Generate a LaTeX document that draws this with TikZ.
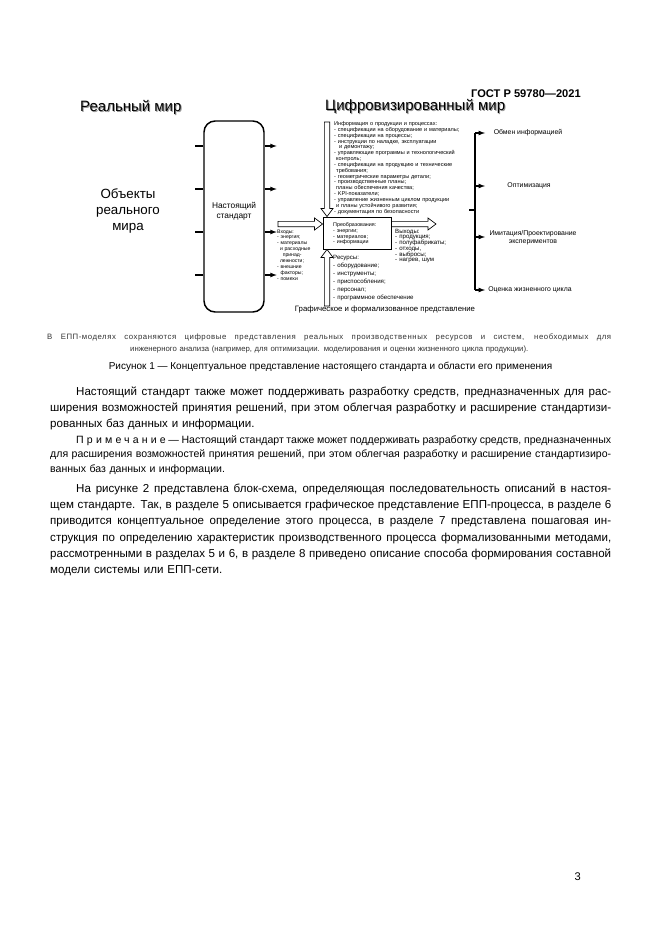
\documentclass[tikz,border=0pt]{standalone}
\usepackage{fontspec}
\setmainfont{Liberation Sans}
\usetikzlibrary{calc,positioning}
\definecolor{mygrau}{RGB}{150,150,150}
\newcommand{\schrift}[2]{\fontsize{#1}{#2}\selectfont}
\newcommand{\zeile}[1]{\makebox[\linewidth][s]{\spaceskip=0pt\xspaceskip=0pt #1}\\}

\begin{document}
\begin{tikzpicture}[x=0.9pt, y=-0.9pt, >=latex,
		rahmen/.style={draw, line width=1.3pt, rounded corners=10pt, minimum width=54pt, minimum height=171.9pt},
		kasten/.style={draw, line width=0.8pt, minimum width=61.2pt, minimum height=28.8pt},
		strich/.style={line width=1pt},
		hohl/.style={draw, line width=0.6pt, fill=white, to path={
				($(\tikztostart)!2.4pt!90:(\tikztotarget)$)
				-- ($(\tikztotarget)!7.2pt!(\tikztostart)!2.4pt!90:(\tikztotarget)$)
				-- ($(\tikztotarget)!7.2pt!(\tikztostart)!5.4pt!90:(\tikztotarget)$)
				-- (\tikztotarget)
				-- ($(\tikztotarget)!7.2pt!(\tikztostart)!5.4pt!-90:(\tikztotarget)$)
				-- ($(\tikztotarget)!7.2pt!(\tikztostart)!2.4pt!-90:(\tikztotarget)$)
				-- ($(\tikztostart)!2.4pt!-90:(\tikztotarget)$) -- cycle}},
		liste/.style={anchor=base west, inner sep=0pt, text width=150pt, align=left},
		ziel/.style={inner sep=0pt, align=center, font=\schrift{6.2}{7}},
		absatz/.style={anchor=base west, inner sep=0pt, text width=504.9pt, align=left},
		titel/.style={anchor=base west, inner sep=0pt, font=\schrift{13.5}{16}}]
				%Seite
				\fill[white] (0,0) rectangle (661,935);
				\useasboundingbox (0,0) rectangle (661,935);
				\node[anchor=base east, inner sep=0pt, font=\schrift{10}{12}\bfseries] (kopf) at (581,97.5) {ГОСТ Р 59780—2021};
				% Ueberschriften mit Schatten
				\node[titel, mygrau] (realS) at (81,112) {Реальный мир};
				\node[titel] (real) at (80,111) {Реальный мир};
				\node[titel, mygrau] (digS) at (326,111) {Цифровизированный мир};
				\node[titel] (dig) at (325,110) {Цифровизированный мир};
				\node[align=center, font=\schrift{12}{14.4}] (obj) at (128,211) {Объекты\\реального\\мира};
				% Standard
				\node[rahmen] (standard) at (234,216.5) {};
				\node[align=center, inner sep=0pt, font=\schrift{7.5}{9}] (stdtxt) at (234,211.5) {Настоящий\\стандарт};
				\foreach \y in {146,189,232,275} {
					\draw[strich] (standard.west |- 0,\y) -- ++(-8,0);
					\draw[strich,->] (standard.east |- 0,\y) -- ++(12,0);
				}
				% Umwandlung
				\node[kasten] (conv) at (357,233) {};
				\node[liste, font=\schrift{4.8}{5.2}] (convtxt) at (333,226.5) {Преобразования:\\- энергии;\\- материалов;\\- информации};
				% Hohlpfeile
				\coordinate (inS) at (278,224);
				\coordinate (inT) at (conv.west |- inS);
				\coordinate (outS) at (conv.east |- inS);
				\coordinate (outT) at (436,224);
				\coordinate (topS) at (327,122);
				\coordinate (topT) at (topS |- conv.north);
				\coordinate (botS) at (327,306);
				\coordinate (botT) at (botS |- conv.south);
				\draw[hohl] (inS) to (inT);
				\draw[hohl] (outS) to (outT);
				\draw[hohl] (topS) to (topT);
				\draw[hohl] (botS) to (botT);
				% Listen
				\node[liste, font=\schrift{5}{5.25}] (info) at (334,125.5) {Информация о продукции и процессах:\\- спецификации на оборудование и материалы;\\- спецификации на процессы;\\- инструкции по наладке, эксплуатации\\\hspace*{4.5pt}и демонтажу;\\- управляющие программы и технологический\\\hspace*{1.8pt}контроль;\\- спецификации на продукцию и технические\\\hspace*{1.8pt}требования;\\- геометрические параметры детали;\\- производственные планы;\\\hspace*{1.8pt}планы обеспечения качества;\\- KPI-показатели;\\- управление жизненным циклом продукции\\\hspace*{1.8pt}и планы устойчивого развития;\\- документация по безопасности};
				\node[liste, font=\schrift{4.6}{5.3}] (inputs) at (277,233) {Входы:\\- энергия;\\- материалы\\\hspace*{2.5pt}и расходные\\\hspace*{5pt}принад-\\\hspace*{2.5pt}лежности;\\- внешние\\\hspace*{3pt}факторы;\\- помехи};
				\node[liste, font=\schrift{5.5}{5.2}] (outputs) at (395,233) {Выходы:\\- продукция;\\- полуфабрикаты;\\- отходы,\\- выбросы;\\- нагрев, шум};
				\node[liste, font=\schrift{5.5}{7.2}] (res) at (333,259) {Ресурсы:\\- оборудование;\\- инструменты;\\- приспособления;\\- персонал;\\- программное обеспечение};
				% Anwendungen
				\foreach \y/\n in {133/1,186/2,237/3,290/4} {
					\coordinate (b\n) at (475,\y);
					\coordinate (p\n) at (485,\y);
					\draw[strich,->] (b\n) -- (p\n);
				}
				\draw[line width=1.3pt] (b1) -- (b4);
				\coordinate (ast) at (469,210);
				\draw[strich] (ast) -- (ast -| b1);
				\node[ziel] (z1) at (528,133) {Обмен информацией};
				\node[ziel] (z2) at (529,186) {Оптимизация};
				\node[ziel] (z3) at (533,237.5) {Имитация/Проектирование\\экспериментов};
				\node[ziel] (z4) at (530,290) {Оценка жизненного цикла};
				\node[inner sep=0pt, font=\schrift{7}{8}] (graf) at (385,309) {Графическое и формализованное представление};
				% Bildunterschrift
				\node[absatz, text width=507.6pt, font=\schrift{7}{10.8}, black!80] (notiz) at (47,339.5) {\zeile{\addfontfeature{LetterSpace=7}В ЕПП-моделях сохраняются цифровые представления реальных производственных ресурсов и систем, необходимых для}\makebox[\linewidth][c]{инженерного анализа (например, для оптимизации. моделирования и оценки жизненного цикла продукции).}};
				\node[anchor=base, inner sep=0pt, font=\schrift{9}{11}] (bild) at (330.5,369) {Рисунок 1 — Концептуальное представление настоящего стандарта и области его применения};
				% Text
				\node[absatz, font=\schrift{10.4}{14.7}] (abs1) at (50,395) {\zeile{\hspace*{23.4pt}Настоящий стандарт также может поддерживать разработку средств, предназначенных для рас-}\zeile{ширения возможностей принятия решений, при этом облегчая разработку и расширение стандартизи-}рованных баз данных и информации.};
				\node[absatz, font=\schrift{9.5}{13}] (prim) at (50,443.5) {\zeile{\hspace*{23.4pt}{\addfontfeature{LetterSpace=30}Примечание} — Настоящий стандарт также может поддерживать разработку средств, предназначенных}\zeile{для расширения возможностей принятия решений, при этом облегчая разработку и расширение стандартизиро-}ванных баз данных и информации.};
				\node[absatz, font=\schrift{10.4}{14.7}] (abs3) at (50,492) {\zeile{\hspace*{23.4pt}На рисунке 2 представлена блок-схема, определяющая последовательность описаний в настоя-}\zeile{щем стандарте. Так, в разделе 5 описывается графическое представление ЕПП-процесса, в разделе 6}\zeile{приводится концептуальное определение этого процесса, в разделе 7 представлена пошаговая ин-}\zeile{струкция по определению характеристик производственного процесса формализованными методами,}\zeile{рассмотренными в разделах 5 и 6, в разделе 8 приведено описание способа формирования составной}модели системы или ЕПП-сети.};
				\node[anchor=base east, inner sep=0pt, font=\schrift{10}{12}] (seite) at (581,880) {3};
		\end{tikzpicture}
\end{document}
